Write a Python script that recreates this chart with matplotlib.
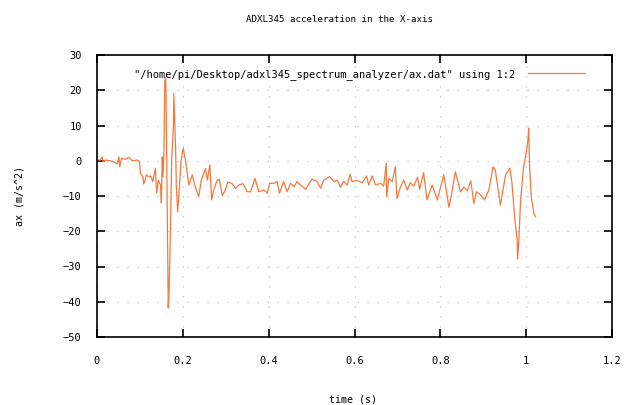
import matplotlib
matplotlib.use("Agg")
import matplotlib.pyplot as plt

title = "ADXL345 acceleration in the X-axis"
xlabel = "time (s)"
ylabel = "ax (m/s^2)"
legend_label = '"/home/pi/Desktop/adxl345_spectrum_analyzer/ax.dat" using 1:2'

time_s = [0.000, 0.008, 0.012, 0.014, 0.020, 0.031, 0.039, 0.047, 0.051, 0.053,
          0.057, 0.066, 0.074, 0.082, 0.094, 0.099, 0.101, 0.107, 0.109, 0.115,
          0.121, 0.125, 0.130, 0.136, 0.139, 0.143, 0.148, 0.150, 0.152, 0.154,
          0.156, 0.158, 0.160, 0.161, 0.164, 0.166, 0.168, 0.171, 0.174, 0.178,
          0.179, 0.183, 0.185, 0.188, 0.192, 0.196, 0.201, 0.206, 0.214, 0.222,
          0.229, 0.237, 0.243, 0.253, 0.257, 0.263, 0.267, 0.272, 0.280, 0.285,
          0.292, 0.299, 0.305, 0.315, 0.323, 0.330, 0.340, 0.350, 0.358, 0.368,
          0.377, 0.389, 0.397, 0.402, 0.412, 0.420, 0.425, 0.435, 0.443, 0.451,
          0.459, 0.466, 0.474, 0.486, 0.501, 0.513, 0.521, 0.528, 0.542, 0.552,
          0.560, 0.567, 0.575, 0.583, 0.590, 0.594, 0.606, 0.618, 0.628, 0.633,
          0.641, 0.649, 0.661, 0.668, 0.674, 0.675, 0.680, 0.688, 0.695, 0.699,
          0.707, 0.715, 0.723, 0.730, 0.738, 0.747, 0.752, 0.761, 0.769, 0.781,
          0.793, 0.808, 0.820, 0.828, 0.835, 0.847, 0.855, 0.863, 0.871, 0.878,
          0.884, 0.894, 0.903, 0.913, 0.923, 0.928, 0.940, 0.952, 0.962, 0.967,
          0.973, 0.979, 0.980, 0.983, 0.987, 0.994, 1.001, 1.004, 1.006, 1.008,
          1.012, 1.018, 1.022]

accel_x = [0.2, 0.2, 1.1, -0.3, 0.2, 0.0, -0.3, -0.9, 1.1, -1.7,
           0.7, 0.4, 1.0, 0.0, 0.2, -0.3, -3.6, -4.5, -6.6, -4.0,
           -4.6, -4.3, -5.9, -2.2, -9.2, -5.5, -6.9, -12.0, 1.1, -4.5,
           3.0, 22.9, 23.5, 17.7, -16.8, -41.8, -36.7, -20.5, 0.2, 9.6,
           19.1, 4.0, -7.4, -14.5, -7.4, 0.2, 3.5, 0.2, -6.9, -4.0,
           -7.4, -10.2, -5.5, -2.2, -5.5, -1.2, -11.1, -8.3, -5.5, -5.3,
           -9.9, -8.3, -6.0, -6.5, -7.9, -6.9, -6.5, -8.8, -8.8, -5.0,
           -8.8, -8.3, -9.2, -6.4, -6.4, -5.9, -9.2, -5.9, -8.8, -6.4,
           -7.4, -5.9, -6.9, -8.1, -5.2, -5.9, -7.8, -5.5, -4.5, -5.9,
           -5.5, -7.5, -5.9, -6.9, -3.8, -5.9, -5.6, -6.2, -4.3, -6.9,
           -4.3, -6.9, -6.4, -7.2, -0.7, -10.2, -5.0, -5.9, -1.7, -10.7,
           -7.4, -5.5, -8.3, -6.2, -7.2, -4.7, -8.1, -3.4, -11.1, -6.9,
           -11.1, -4.0, -13.2, -8.3, -3.1, -8.8, -7.5, -8.5, -5.7, -12.1,
           -8.8, -9.7, -11.1, -8.3, -1.7, -2.6, -12.6, -4.0, -2.1, -6.4,
           -15.9, -22.5, -27.9, -22.5, -11.1, -1.7, 3.0, 5.9, 9.2, -1.7,
           -10.2, -14.9, -15.9]

x_ticks = [0, 0.2, 0.4, 0.6, 0.8, 1.0, 1.2]
x_ticklabels = ["0", "0.2", "0.4", "0.6", "0.8", "1", "1.2"]
y_ticks = [-50, -40, -30, -20, -10, 0, 10, 20, 30]

plt.rcParams['font.family'] = ["DejaVu Sans Mono"]

fig = plt.figure(figsize=(6.24, 4.05), dpi=100)
ax = fig.add_axes([97 / 624, 68 / 405, 515 / 624, 282 / 405])

line_color = "#f5793f"
ax.plot(time_s, accel_x, color=line_color, lw=0.9, label=legend_label)

ax.set_xlim(0, 1.2)
ax.set_ylim(-50, 30)
ax.set_xticks(x_ticks)
ax.set_xticklabels(x_ticklabels)
ax.set_yticks(y_ticks)
ax.tick_params(direction="in", length=6, width=1.2, top=True, right=True,
               labelsize=7.5, colors="black")
ax.tick_params(axis="x", pad=14)
ax.tick_params(axis="y", pad=11)
for s in ax.spines.values():
    s.set_linewidth(1.2)
ax.grid(True, color="#c0c0c0", linestyle=(0, (1, 7)), linewidth=0.9)

fig.text(340 / 624, 1 - 19 / 405, title, ha="center", va="center", fontsize=6.6)
fig.text(353 / 624, 1 - 399 / 405, xlabel, ha="center", va="center", fontsize=7.2)
fig.text(20 / 624, 1 - 196 / 405, ylabel, ha="center", va="center",
         rotation=90, fontsize=7.2)

leg = ax.legend(loc="upper right", bbox_to_anchor=(0.948, 0.95),
                bbox_transform=ax.transAxes, frameon=False, fontsize=7.5,
                handlelength=5.5, markerfirst=False, borderaxespad=0,
                borderpad=0, handletextpad=1.2)

fig.savefig("out.png", dpi=100)
